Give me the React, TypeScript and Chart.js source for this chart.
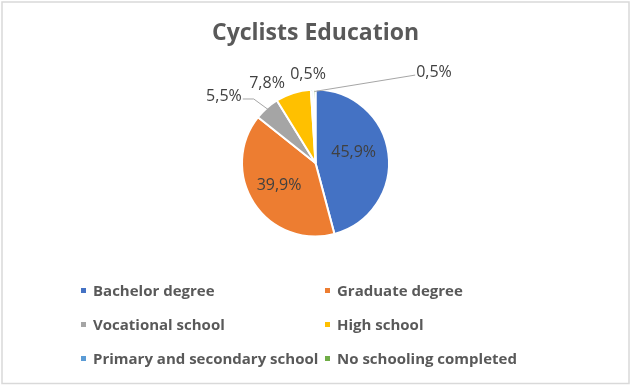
import React, { useEffect, useRef } from "react";
import { Chart, registerables } from "chart.js";

Chart.register(...registerables);

const TITLE = "Cyclists Education";
const categories = [
  "Bachelor degree",
  "Graduate degree",
  "Vocational school",
  "High school",
  "Primary and secondary school",
  "No schooling completed",
];
const shares = [45.9, 39.9, 5.5, 7.8, 0.5, 0.5];
const colors = ["#4472C4", "#ED7D31", "#A5A5A5", "#FFC000", "#5B9BD5", "#70AD47"];

const FONT = "'Open Sans', 'DejaVu Sans', sans-serif";

// label placement: polar angle (deg clockwise from top) and distance factor of radius
const labelPlacement = [
  { a: 74.6, f: 0.546, leader: "none" },
  { a: 238, f: 0.593, leader: "none" },
  { a: 306.2, f: 1.565, leader: "right" },
  { a: 328.8, f: 1.29, leader: "none" },
  { a: -4.8, f: 1.23, leader: "none" },
  { a: 52.5, f: 2.06, leader: "left" },
];

const fmt = (v: number) => v.toFixed(1).replace(".", ",") + "%";

const decorPlugin = {
  id: "decor",
  beforeDraw(chart: any) {
    const ctx = chart.ctx;
    ctx.save();
    ctx.fillStyle = "#ffffff";
    ctx.fillRect(0, 0, chart.width, chart.height);
    ctx.strokeStyle = "#d9d9d9";
    ctx.lineWidth = 1.5;
    ctx.strokeRect(2, 2, chart.width - 5, chart.height - 4.5);
    ctx.restore();
  },
  afterDatasetsDraw(chart: any) {
    const ctx = chart.ctx;
    const meta = chart.getDatasetMeta(0);
    const data = chart.data.datasets[0].data as number[];
    ctx.save();
    ctx.font = `16px ${FONT}`;
    ctx.fillStyle = "#404040";
    ctx.textAlign = "center";
    ctx.textBaseline = "middle";
    meta.data.forEach((arc: any, i: number) => {
      const p = labelPlacement[i];
      const cx = arc.x;
      const cy = arc.y;
      const R = arc.outerRadius - 1;
      const ang = (p.a * Math.PI) / 180;
      const lx = cx + Math.sin(ang) * p.f * R;
      const ly = cy - Math.cos(ang) * p.f * R;
      const text = fmt(data[i]);
      ctx.fillText(text, lx, ly);
      const w = ctx.measureText(text).width;
      const mid = (arc.startAngle + arc.endAngle) / 2;
      const ex = cx + Math.cos(mid) * (R - 1);
      const ey = cy + Math.sin(mid) * (R - 1);
      if (p.leader !== "none") {
        ctx.save();
        ctx.strokeStyle = "#A6A6A6";
        ctx.lineWidth = 1;
        ctx.beginPath();
        if (p.leader === "right") {
          const sx = lx + w / 2 + 1;
          const sy = ly + 3;
          ctx.moveTo(sx, sy);
          ctx.lineTo(sx + 11, sy);
          ctx.lineTo(ex, ey);
        } else {
          const sx = lx - w / 2 - 1;
          const sy = ly + 3;
          ctx.moveTo(sx, sy);
          ctx.lineTo(ex, ey);
        }
        ctx.stroke();
        ctx.restore();
      }
    });
    ctx.restore();
  },
  afterDraw(chart: any) {
    const ctx = chart.ctx;
    ctx.save();
    ctx.font = `bold 15px ${FONT}`;
    ctx.textBaseline = "middle";
    ctx.textAlign = "left";
    const x0 = 81;
    const colW = 244;
    const y0 = 290.5;
    const rowH = 34;
    categories.forEach((c, i) => {
      const col = i % 2;
      const row = Math.floor(i / 2);
      const x = x0 + col * colW;
      const y = y0 + row * rowH;
      ctx.fillStyle = colors[i];
      ctx.fillRect(x, y - 2.5, 5, 5);
      ctx.fillStyle = "#595959";
      ctx.fillText(c, x + 12, y + 1);
    });
    ctx.restore();
  },
};

export default function App() {
  const ref = useRef<HTMLCanvasElement>(null);
  useEffect(() => {
    if (!ref.current) return;
    const chart = new Chart(ref.current, {
      type: "pie",
      data: {
        labels: categories,
        datasets: [
          {
            data: shares,
            backgroundColor: colors,
            borderColor: "#ffffff",
            borderWidth: 2,
          },
        ],
      },
      options: {
        animation: false,
        responsive: true,
        maintainAspectRatio: false,
        radius: 73.5,
        layout: { padding: { top: 0, bottom: 148, left: 0, right: 1 } },
        plugins: {
          legend: { display: false },
          tooltip: { enabled: false },
          title: {
            display: true,
            text: TITLE,
            color: "#595959",
            font: { family: FONT, size: 23, weight: "bold", lineHeight: 1.2 },
            padding: { top: 19.2, bottom: 41.2 },
          },
        },
      } as any,
      plugins: [decorPlugin],
    });
    return () => chart.destroy();
  }, []);
  return (
    <div style={{ position: "fixed", left: 0, top: 0, width: 632, height: 386 }}>
      <canvas ref={ref} />
    </div>
  );
}
